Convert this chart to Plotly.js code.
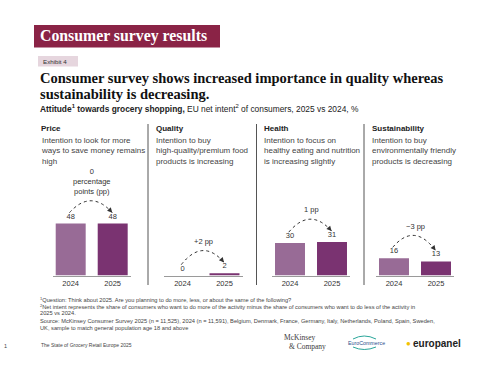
<!DOCTYPE html>
<html><head><meta charset="utf-8">
<script src="https://cdn.plot.ly/plotly-3.0.1.min.js"></script>
<style>html,body{margin:0;padding:0;background:#fff}#chart{width:500px;height:383px}</style>
</head><body><div id="chart"></div>
<script>
// ---- data ----
const years = ['2024', '2025'];
const panelNames = ['Price', 'Quality', 'Health', 'Sustainability'];
const panelDescs = [
  'Intention to look for more<br>ways to save money remains<br>high',
  'Intention to buy<br>high-quality/premium food<br>products is increasing',
  'Intention to focus on<br>healthy eating and nutrition<br>is increasing slightly',
  'Intention to buy<br>environmentally friendly<br>products is decreasing'
];
const values2024 = [48, 0, 30, 16];
const values2025 = [48, 2, 31, 13];
const changeLabels = ['0<br>percentage<br>points (pp)', '+2 pp', '1 pp', '\u22123 pp'];
const footnotes = [
  '<sup>1</sup>Question: Think about 2025. Are you planning to do more, less, or about the same of the following?',
  '<sup>2</sup>Net intent represents the share of consumers who want to do more of the activity minus the share of consumers who want to do less of the activity in',
  '2025 vs 2024.',
  'Source: McKinsey Consumer Survey 2025 (n = 11,525), 2024 (n = 11,591), Belgium, Denmark, France, Germany, Italy, Netherlands, Poland, Spain, Sweden,',
  'UK, sample to match general population age 18 and above'
];

// ---- layout helpers ----
const W = 500, H = 383;
const px = x => x / W, py = y => 1 - y / H;
const SANS = 'Liberation Sans, Arial, sans-serif';
const SERIF = 'Liberation Serif, Times New Roman, serif';
const c2024 = '#986b96', c2025 = '#7a3371';
const baseY = 275.5, unitPx = 1.083, yMax = 100;
const xStarts = [70.7, 182.5, 290, 394];  // pixel centre of first bar per panel
const spacing = 42;
const xr = [-0.43, 1.43];

const traces = [], annotations = [], shapes = [];
const layout = {
  width: W, height: H, margin: {l: 0, r: 0, t: 0, b: 0},
  paper_bgcolor: '#fff', plot_bgcolor: 'rgba(0,0,0,0)',
  showlegend: false
};

function T(text, x, y, size, opts = {}) {
  annotations.push(Object.assign({
    text, x: px(x), y: py(y), xref: 'paper', yref: 'paper',
    xanchor: 'left', yanchor: 'middle', showarrow: false, align: 'left',
    font: {family: SANS, size, color: '#333'}
  }, opts));
}

const yDom = [py(baseY), py(baseY - yMax * unitPx)];
for (let i = 0; i < 4; i++) {
  const k = i === 0 ? '' : String(i + 1);
  const xa = 'x' + k, ya = 'y' + k;
  const d0 = xStarts[i] + xr[0] * spacing, d1 = xStarts[i] + xr[1] * spacing;
  layout['xaxis' + k] = {
    domain: [px(d0), px(d1)], range: xr, anchor: ya,
    tickvals: [0, 1], ticktext: years, showgrid: false, zeroline: false,
    showline: true, linecolor: '#9a9a9a', linewidth: 1.5, ticks: '',
    tickfont: {family: SANS, size: 7.5, color: '#333'}, fixedrange: true
  };
  layout['yaxis' + k] = {
    domain: yDom, range: [0, yMax], anchor: xa, visible: false, fixedrange: true
  };
  traces.push({
    type: 'bar', x: [0, 1], y: [values2024[i], values2025[i]], xaxis: xa, yaxis: ya,
    width: 0.714, marker: {color: [c2024, c2025]},
    text: [String(values2024[i]), String(values2025[i])], textposition: 'outside',
    textfont: {family: SANS, size: 7.5, color: '#333'}, cliponaxis: false,
    hoverinfo: 'skip'
  });
  // dashed arc from 2024 label to 2025 label
  const v1 = values2024[i], v2 = values2025[i];
  const y0 = v1 + 10, y1 = v2 + 10, peak = Math.max(v1, v2) + 21;
  const yc = 2 * peak - (y0 + y1) / 2;
  const xs = -0.03, xe = 0.99, xcp = 0.48;
  shapes.push({
    type: 'path', xref: xa, yref: ya,
    path: `M ${xs},${y0} Q ${xcp},${yc} ${xe},${y1}`,
    line: {color: '#333', width: 1, dash: 'dot'}
  });
  const dxp = (xe - xcp) * spacing, dyp = (yc - y1) * unitPx;
  const len = Math.hypot(dxp, dyp), L = 4;
  annotations.push({
    x: xe, y: y1, xref: xa, yref: ya, text: '', showarrow: true,
    ax: -dxp / len * L, ay: -dyp / len * L, arrowhead: 2, arrowsize: 1,
    arrowwidth: 1, arrowcolor: '#333', standoff: 0
  });
  annotations.push({
    x: 0.5, y: peak + 2.5, xref: xa, yref: ya, text: changeLabels[i],
    showarrow: false, yanchor: 'bottom', xanchor: 'center', align: 'center',
    font: {family: SANS, size: 7.5, color: '#333'}
  });
}

// panel headers & descriptions
const panelX = [39, 154, 262, 370];
for (let i = 0; i < 4; i++) {
  T('<b>' + panelNames[i] + '</b>', panelX[i], 128, 8, {font: {family: SANS, size: 8, color: '#222'}});
  T(panelDescs[i], panelX[i], 133.5, 8, {yanchor: 'top', font: {family: SANS, size: 8, color: '#444'}});
}
// dividers
[148, 256.5, 364].forEach(x => shapes.push({
  type: 'line', xref: 'paper', yref: 'paper', x0: px(x), x1: px(x), y0: py(124), y1: py(285),
  line: {color: '#555', width: 1}
}));

// header
shapes.push({type: 'rect', xref: 'paper', yref: 'paper', x0: px(34), x1: px(220), y0: py(25), y1: py(47.5),
  fillcolor: '#8a2346', line: {width: 0}, layer: 'below'});
T('<b>Consumer survey results</b>', 38, 36.5, 15.8, {font: {family: SERIF, size: 15.8, color: '#fff'}});
shapes.push({type: 'rect', xref: 'paper', yref: 'paper', x0: px(38), x1: px(78), y0: py(56), y1: py(66.5),
  fillcolor: '#e6d6de', line: {width: 0}, layer: 'below'});
T('Exhibit 4', 40.5, 61.3, 6.2, {font: {family: SANS, size: 6.2, color: '#333'}});

// title
T('<b>Consumer survey shows increased importance in quality whereas</b>', 38, 78, 14.5, {font: {family: SERIF, size: 14.5, color: '#111'}});
T('<b>sustainability is decreasing.</b>', 38, 93.5, 14.5, {font: {family: SERIF, size: 14.5, color: '#111'}});
T('<b>Attitude<sup>1</sup> towards grocery shopping,</b> EU net intent<sup>2</sup> of consumers, 2025 vs 2024, %', 38, 108, 8.4,
  {font: {family: SANS, size: 8.4, color: '#222'}});

// footnotes
const fnY = [299, 306, 313, 321, 328];
footnotes.forEach((t, i) => T(t, 38, fnY[i], 5.7, {font: {family: SANS, size: 5.7, color: '#444'}}));

// footer
T('The State of Grocery Retail Europe 2025', 39, 344.5, 5, {font: {family: SANS, size: 5, color: '#444'}});
T('1', 2, 345.5, 5.5, {font: {family: SANS, size: 5.5, color: '#444'}});
T('McKinsey', 282, 337, 7.5, {font: {family: SERIF, size: 7.5, color: '#3a3a3a'}});
T('&amp; Company', 287, 346, 7.5, {font: {family: SERIF, size: 7.5, color: '#3a3a3a'}});
T('EuroCommerce', 346, 343, 5.3, {font: {family: SANS, size: 5.3, color: '#2c4f8c'}});
shapes.push({type: 'path', xref: 'paper', yref: 'paper',
  path: `M ${px(353)},${py(339)} Q ${px(364)},${py(333)} ${px(376)},${py(339)}`, line: {color: '#2aa69a', width: 1}});
shapes.push({type: 'path', xref: 'paper', yref: 'paper',
  path: `M ${px(353)},${py(347)} Q ${px(364)},${py(352)} ${px(376)},${py(347)}`, line: {color: '#2aa69a', width: 1}});
T('\u25CF', 404, 343, 8, {font: {family: SANS, size: 8, color: '#f2c200'}});
T('<b>europanel</b>', 411, 343, 10, {font: {family: SANS, size: 10, color: '#222'}});

layout.annotations = annotations;
layout.shapes = shapes;
Plotly.newPlot('chart', traces, layout, {staticPlot: true, displayModeBar: false});
</script></body></html>
